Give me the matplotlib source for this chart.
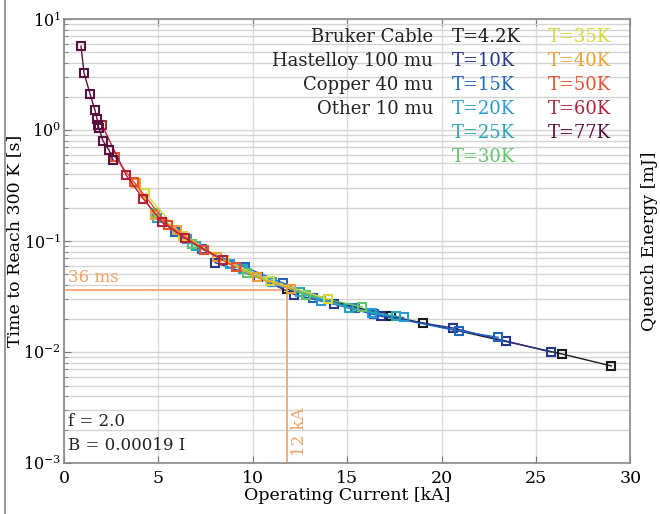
import matplotlib
matplotlib.use('Agg')
import matplotlib.pyplot as plt
from matplotlib.lines import Line2D

plt.rcParams['font.family'] = ['DejaVu Serif']
plt.rcParams['mathtext.fontset'] = 'dejavuserif'

# data per temperature: operating current [kA], time to reach 300 K [s]
temps = ['T=4.2K', 'T=10K', 'T=15K', 'T=20K', 'T=25K', 'T=30K',
         'T=35K', 'T=40K', 'T=50K', 'T=60K', 'T=77K']
colors = ['#1a1a1a', '#24358a', '#2066c0', '#2a98d8', '#2aa3b2', '#62c46a',
          '#d4d83a', '#f0a032', '#e8512c', '#b3203c', '#5a1040']

i_42 = [11.8, 17.3, 19.0, 26.4, 29.0]
t_42 = [0.037, 0.021, 0.0183, 0.0096, 0.0075]
i_10 = [8.0, 10.3, 12.2, 14.3, 16.8, 20.6, 23.4, 25.8]
t_10 = [0.064, 0.047, 0.033, 0.027, 0.021, 0.0165, 0.0126, 0.0100]
i_15 = [5.9, 7.3, 9.6, 11.6, 13.2, 15.4, 16.4, 20.9, 23.0]
t_15 = [0.12, 0.085, 0.058, 0.042, 0.031, 0.025, 0.022, 0.0155, 0.0136]
i_20 = [6.5, 8.8, 11.0, 13.6, 16.3, 18.0]
t_20 = [0.105, 0.062, 0.043, 0.029, 0.0225, 0.0205]
i_25 = [4.9, 7.0, 9.5, 12.5, 15.1, 17.6]
t_25 = [0.16, 0.09, 0.056, 0.035, 0.025, 0.021]
i_30 = [4.8, 6.8, 9.7, 12.8, 15.8]
t_30 = [0.18, 0.095, 0.052, 0.033, 0.0255]
i_35 = [4.3, 6.3, 8.5, 10.9, 14.0]
t_35 = [0.27, 0.11, 0.067, 0.044, 0.030]
i_40 = [3.8, 4.8, 6.0, 8.1, 10.2, 12.0]
t_40 = [0.33, 0.17, 0.125, 0.072, 0.047, 0.037]
i_50 = [2.7, 3.7, 5.5, 7.4, 9.1]
t_50 = [0.57, 0.34, 0.14, 0.083, 0.058]
i_60 = [2.0, 3.3, 4.2, 5.2, 6.4, 8.4]
t_60 = [1.12, 0.39, 0.24, 0.148, 0.106, 0.068]
i_77 = [0.9, 1.06, 1.38, 1.64, 1.75, 1.80, 1.85, 2.06, 2.38, 2.59]
t_77 = [5.7, 3.27, 2.11, 1.51, 1.26, 1.11, 1.04, 0.80, 0.66, 0.54]

currents = [i_42, i_10, i_15, i_20, i_25, i_30, i_35, i_40, i_50, i_60, i_77]
times = [t_42, t_10, t_15, t_20, t_25, t_30, t_35, t_40, t_50, t_60, t_77]

cable_labels = ['Bruker Cable', 'Hastelloy 100 mu', 'Copper 40 mu', 'Other 10 mu']

mark_I = 11.8
mark_t = 0.036

fig = plt.figure(figsize=(6.6, 5.14), dpi=100)
ax = fig.add_axes([0.097, 0.099, 0.858, 0.864])

for I, t, c in zip(currents, times, colors):
    ax.plot(I, t, color=c, lw=1.0, marker='s', ms=5.2, mfc='none', mew=1.5, zorder=3)

ax.plot([0, mark_I], [mark_t, mark_t], color='#f5a060', lw=1.2, zorder=2)
ax.plot([mark_I, mark_I], [1e-3, mark_t], color='#f5a060', lw=1.2, zorder=2)
ax.text(0.2, 0.039, '36 ms', color='#f5a060', fontsize=12, va='bottom')
ax.text(12.0, 1.15e-3, '12 kA', color='#f5a060', fontsize=12, rotation=90, va='bottom')

ax.text(0.2, 2.35e-3, 'f = 2.0', fontsize=12, color='#222222', va='center')
ax.text(0.2, 1.45e-3, 'B = 0.00019 I', fontsize=12, color='#222222', va='center')

ax.set_yscale('log')
ax.set_xlim(0, 30)
ax.set_ylim(1e-3, 10)
ax.set_xticks([0, 5, 10, 15, 20, 25, 30])
ax.grid(True, which='major', axis='x', color='#dcdcdc', lw=1.0)
ax.grid(True, which='both', axis='y', color='#d4d4d4', lw=1.0)
ax.set_axisbelow(True)
ax.tick_params(which='both', direction='in', top=True, right=True, labelsize=12.5,
               color='#777777')
ax.tick_params(which='major', length=5)
ax.tick_params(which='minor', length=3)
ax.tick_params(axis='x', pad=5)
ax.tick_params(axis='y', labelsize=11.5, pad=2)
for s in ax.spines.values():
    s.set_color('#888888')
    s.set_linewidth(1.2)

ax.set_xlabel('Operating Current [kA]', fontsize=12.5, labelpad=0)
ax.set_ylabel('Time to Reach 300 K [s]', fontsize=12.5)
ax.yaxis.set_label_coords(-0.073, 0.5)
ax2 = ax.twinx()
ax2.set_yticks([])
ax2.set_ylabel('Quench Energy [mJ]', fontsize=12.5, labelpad=8)
for s in ax2.spines.values():
    s.set_visible(False)

# annotation block
row_y = [0.959, 0.905, 0.851, 0.797, 0.743, 0.689]
for k, lab in enumerate(cable_labels):
    ax.text(0.652, row_y[k], lab, transform=ax.transAxes, ha='right', va='center',
            fontsize=13, color='#222222')
col1 = temps[:6]
col2 = temps[6:]
for k, lab in enumerate(col1):
    ax.text(0.685, row_y[k], lab, transform=ax.transAxes, ha='left', va='center',
            fontsize=13, color=colors[k])
for k, lab in enumerate(col2):
    ax.text(0.855, row_y[k], lab, transform=ax.transAxes, ha='left', va='center',
            fontsize=13, color=colors[6 + k])

fig.add_artist(Line2D([0.008, 0.008], [0.0, 1.0], color='#888888', lw=1.2))

fig.savefig('out.png', dpi=100)
